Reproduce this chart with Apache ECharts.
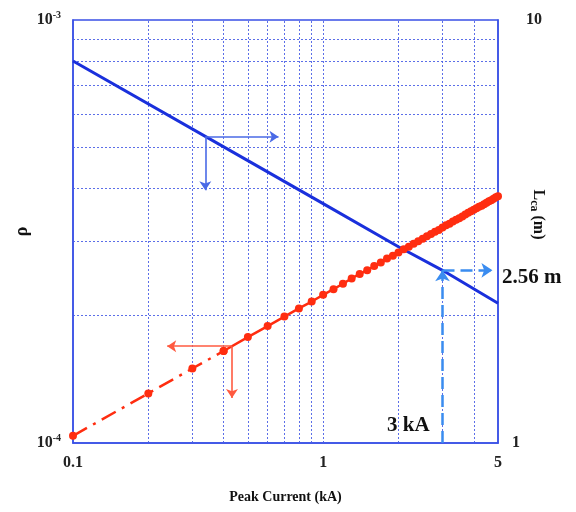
<!DOCTYPE html>
<html><head><meta charset="utf-8">
<script src="https://cdn.jsdelivr.net/npm/echarts@6/dist/echarts.min.js"></script>
<style>html,body{margin:0;padding:0;background:#fff}#c{width:576px;height:512px}</style>
</head><body><div id="c"></div>
<script>
// Red series: rho vs peak current (left axis)
const current = [0.1,0.2,0.3,0.4,0.5,0.6,0.7,0.8,0.9,1.0,1.1,1.2,1.3,1.4,1.5,1.6,1.7,1.8,1.9,2.0,2.1,2.2,2.3,2.4,2.5,2.6,2.7,2.8,2.9,3.0,3.1,3.2,3.3,3.4,3.5,3.6,3.7,3.8,3.9,4.0,4.1,4.2,4.3,4.4,4.5,4.6,4.7,4.8,4.9,5.0];
const rho = [1.04e-4,1.31e-4,1.50e-4,1.65e-4,1.78e-4,1.89e-4,1.99e-4,2.08e-4,2.16e-4,2.24e-4,2.31e-4,2.38e-4,2.45e-4,2.51e-4,2.56e-4,2.62e-4,2.67e-4,2.73e-4,2.77e-4,2.82e-4,2.87e-4,2.91e-4,2.96e-4,3.00e-4,3.04e-4,3.08e-4,3.12e-4,3.16e-4,3.19e-4,3.23e-4,3.27e-4,3.30e-4,3.34e-4,3.37e-4,3.40e-4,3.43e-4,3.47e-4,3.50e-4,3.53e-4,3.56e-4,3.59e-4,3.62e-4,3.64e-4,3.67e-4,3.70e-4,3.73e-4,3.75e-4,3.78e-4,3.81e-4,3.83e-4];
const dashEndCurrent = 0.4; // dash-dot segment ends here
// Blue series: L_ca vs peak current (right axis)
const currentL = [0.1,0.5,1,2,3,5];
const lca = [8.0,4.65,3.68,2.91,2.56,2.14];
// Tick labels
const xTicks = [0.1,1,5];
const yLeftTicks = ['10{s|-4}','10{s|-3}'];
const yRightTicks = ['1','10'];
// Minor grid values
const xGrid = [0.2,0.3,0.4,0.5,0.6,0.7,0.8,0.9,1,2,3,4];
const yGrid = [2e-4,3e-4,4e-4,5e-4,6e-4,7e-4,8e-4,9e-4];
const xRange = [0.1,5];
// Annotation arrows (data coords)
const blueArrowCorner = [0.338,5.3];
const blueArrowRightTo = 0.663;
const blueArrowDownTo = 3.96;
const redArrowCorner = [0.432,1.694e-4];
const redArrowLeftTo = 0.238;
const redArrowDownTo = 1.277e-4;
const readCurrent = 3, readL = 2.56, readRightTo = 4.75;

const font = '"Liberation Serif", "Times New Roman", serif';
const gridColor = '#4a5fe6';
const redData = current.map((c,i)=>[c,rho[i]]);
const redDash = redData.filter(d=>d[0]<=dashEndCurrent+1e-9);
const redSolid = redData.filter(d=>d[0]>=dashEndCurrent-1e-9);

const gridML = {
  silent:true, symbol:['none','none'], label:{show:false},
  lineStyle:{color:gridColor,type:[2,2],width:1,opacity:0.9},
  data: xGrid.map(v=>[{coord:[v,1e-4]},{coord:[v,1e-3]}])
    .concat(yGrid.map(v=>[{coord:[xRange[0],v]},{coord:[xRange[1],v]}]))
};
const arrowStyleBlue = {color:'#4a6ae6',type:'solid',width:1.6};
const arrowStyleRed = {color:'#ff5a40',type:'solid',width:1.6};

const chart = echarts.init(document.getElementById('c'));
chart.setOption({
  animation:false,
  grid:{left:73,right:78,top:20,bottom:69,show:true,borderColor:'#3a50e6',borderWidth:1.5},
  xAxis:{type:'log',logBase:10,min:xRange[0],max:xRange[1],
    name:'Peak Current (kA)',nameLocation:'middle',nameGap:47,nameMoveOverlap:false,
    nameTextStyle:{fontFamily:font,fontWeight:'bold',fontSize:14,color:'#111'},
    axisLine:{show:true,lineStyle:{color:'#3a50e6',width:1.5}},axisTick:{show:false},splitLine:{show:false},
    axisLabel:{fontFamily:font,fontWeight:'bold',fontSize:16,color:'#222',margin:12,showMaxLabel:true,showMinLabel:true,
      formatter:v=>{const r=Math.round(v*10)/10; return xTicks.indexOf(r)>=0? String(r):'';}}
  },
  yAxis:[
    {type:'log',logBase:10,min:1e-4,max:1e-3,
      name:'ρ',nameLocation:'middle',nameRotate:90,nameGap:42,nameMoveOverlap:false,
      nameTextStyle:{fontFamily:font,fontWeight:'bold',fontSize:18,color:'#111'},
      axisLine:{show:true,lineStyle:{color:'#3a50e6',width:1.5}},axisTick:{show:false},splitLine:{show:false},
      axisLabel:{fontFamily:font,fontWeight:'bold',fontSize:16,color:'#222',margin:12,
        formatter:v=>{const e=Math.round(Math.log10(v)); return e===-4?yLeftTicks[0]:(e===-3?yLeftTicks[1]:'');},
        rich:{s:{fontFamily:font,fontWeight:'bold',fontSize:10,color:'#222',padding:[0,0,10,0]}}}
    },
    {type:'log',logBase:10,min:1,max:10,
      name:'{l|L}{sub|ca}{l| (m)}',nameLocation:'middle',nameRotate:-90,nameGap:30,nameMoveOverlap:false,
      nameTextStyle:{fontFamily:font,fontWeight:'bold',fontSize:16,color:'#111',padding:[0,34,0,0],
        rich:{l:{fontFamily:font,fontWeight:'bold',fontSize:16,color:'#111'},
              sub:{fontFamily:font,fontWeight:'bold',fontSize:12,color:'#111',padding:[8,0,0,0]}}},
      axisLine:{show:true,lineStyle:{color:'#3a50e6',width:1.5}},axisTick:{show:false},splitLine:{show:false},
      axisLabel:{fontFamily:font,fontWeight:'bold',fontSize:16,color:'#222',margin:12,
        formatter:v=>{const e=Math.round(Math.log10(v)); return e===0?'{a|'+yRightTicks[0]+'}':(e===1?'{b|'+yRightTicks[1]+'}':'');},
        rich:{a:{fontFamily:font,fontWeight:'bold',fontSize:16,color:'#222',padding:[0,0,0,2]},
              b:{fontFamily:font,fontWeight:'bold',fontSize:16,color:'#222',padding:[0,0,0,16]}}}
    }
  ],
  series:[
    {type:'line',yAxisIndex:1,data:currentL.map((c,i)=>[c,lca[i]]),showSymbol:false,z:3,
      lineStyle:{color:'#1a30dc',width:3},
      markLine:{silent:true,symbol:['none','arrow'],symbolSize:9,label:{show:false},lineStyle:arrowStyleBlue,
        data:[
          [{coord:blueArrowCorner},{coord:[blueArrowRightTo,blueArrowCorner[1]]}],
          [{coord:blueArrowCorner},{coord:[blueArrowCorner[0],blueArrowDownTo]}]
        ]}},
    {type:'line',data:redDash,symbol:'circle',symbolSize:8,z:4,
      itemStyle:{color:'#ff2d10'},lineStyle:{color:'#ff2d10',width:2.5,type:[16,7,3,7]},
      markLine:Object.assign({z:1},gridML)},
    {type:'line',data:redSolid,symbol:'circle',symbolSize:8,z:4,
      itemStyle:{color:'#ff2d10'},lineStyle:{color:'#ff2d10',width:2.5},
      markLine:{silent:true,symbol:['none','arrow'],symbolSize:9,label:{show:false},lineStyle:arrowStyleRed,
        data:[
          [{coord:redArrowCorner},{coord:[redArrowLeftTo,redArrowCorner[1]]}],
          [{coord:redArrowCorner},{coord:[redArrowCorner[0],redArrowDownTo]}]
        ]}},
    {type:'line',yAxisIndex:1,data:[],z:5,
      markLine:{silent:true,symbol:['none','arrow'],symbolSize:11,label:{show:false},
        lineStyle:{color:'#3a8cf0',type:[12,6],width:2.5},
        data:[
          [{coord:[readCurrent,1]},{coord:[readCurrent,readL]}],
          [{coord:[readCurrent,readL]},{coord:[readRightTo,readL]}]
        ]}}
  ],
  graphic:[
    {type:'text',left:387,top:415,style:{text:'3 kA',font:'bold 21px '+font,fill:'#111'}},
    {type:'text',left:502,top:267,style:{text:'2.56 m',font:'bold 21px '+font,fill:'#111'}}
  ]
});
</script></body></html>
